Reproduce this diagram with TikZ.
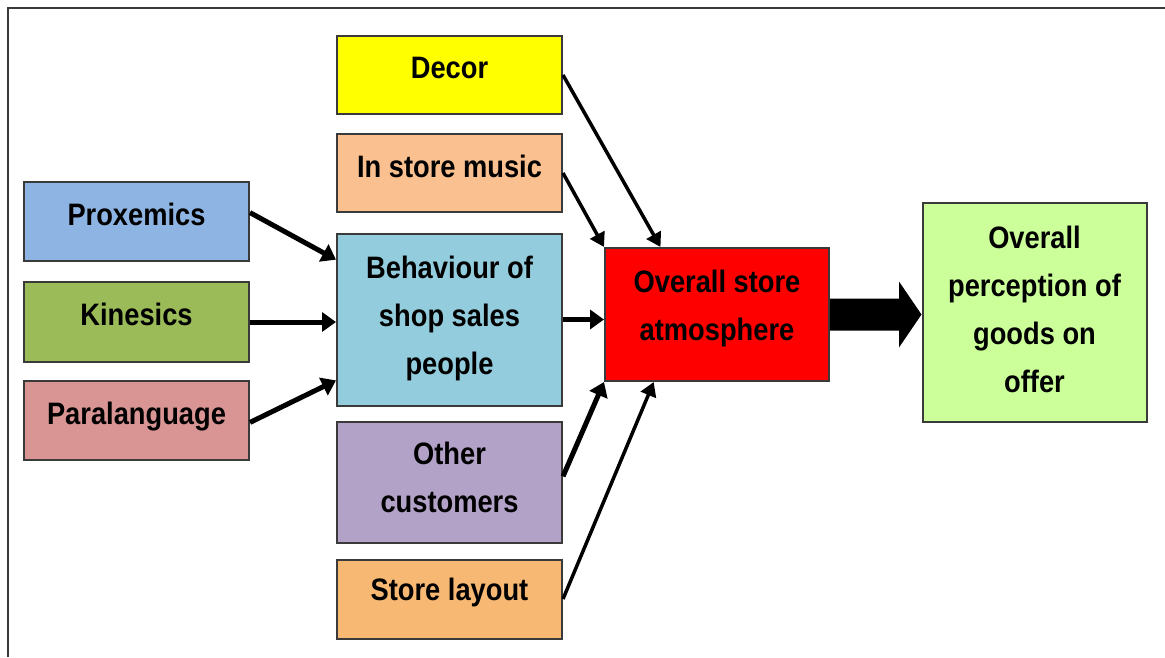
\documentclass[tikz,border=0pt]{standalone}
\usepackage{fontspec}
\setmainfont{Liberation Sans}[FakeStretch=0.88]
\usetikzlibrary{arrows.meta,calc}

\definecolor{boxline}{HTML}{3A3A3A}
\definecolor{cDecor}{HTML}{FFFF00}
\definecolor{cMusic}{HTML}{FAC090}
\definecolor{cProx}{HTML}{8EB4E3}
\definecolor{cKin}{HTML}{9BBB59}
\definecolor{cPara}{HTML}{D99594}
\definecolor{cBehav}{HTML}{93CDDD}
\definecolor{cOther}{HTML}{B3A2C7}
\definecolor{cLayout}{HTML}{F6B873}
\definecolor{cAtmos}{HTML}{FF0000}
\definecolor{cPercep}{HTML}{CCFF99}

\tikzset{
  box/.style={draw=boxline, line width=2pt, inner sep=0pt, rectangle},
  % multi-line labels are anchored at the baseline of their last line
  lbl/.style={inner sep=0pt, anchor=base, align=center,
    font=\fontsize{31}{48}\selectfont\bfseries},
  arrthick/.style={line width=5pt, -{Triangle[length=14pt,width=19pt]}},
  arrthin/.style={line width=3.5pt, -{Triangle[length=14pt,width=16pt]}},
}

\begin{document}
\begin{tikzpicture}[x=1pt, y=-1pt]
  \useasboundingbox (0,0) rectangle (1165,657);
  % outer frame (top and left edges)
  \draw[line width=2pt, color=boxline] (8,657) -- (8,8) -- (1165,8);

  % boxes
  \node[box, fill=cDecor,  minimum width=225pt, minimum height=78pt]  (decor)  at (449.5,75)  {};
  \node[box, fill=cMusic,  minimum width=225pt, minimum height=78pt]  (music)  at (449.5,173) {};
  \node[box, fill=cProx,   minimum width=225pt, minimum height=79pt]  (prox)   at (136.5,221.5) {};
  \node[box, fill=cKin,    minimum width=225pt, minimum height=80pt]  (kin)    at (136.5,322) {};
  \node[box, fill=cPara,   minimum width=225pt, minimum height=79pt]  (para)   at (136.5,420) {};
  \node[box, fill=cBehav,  minimum width=225pt, minimum height=172pt] (behav)  at (449.5,319.5) {};
  \node[box, fill=cOther,  minimum width=225pt, minimum height=121pt] (other)  at (449.5,482.5) {};
  \node[box, fill=cLayout, minimum width=225pt, minimum height=79pt]  (layout) at (449.5,599) {};
  \node[box, fill=cAtmos,  minimum width=224pt, minimum height=133pt] (atmos)  at (717,314.5) {};
  \node[box, fill=cPercep, minimum width=224pt, minimum height=219pt] (percep) at (1034.5,312.5) {};

  % labels
  \node[lbl] (tDecor)  at (449.5,78)  {Decor};
  \node[lbl] (tMusic)  at (449.5,177) {In store music};
  \node[lbl] (tProx)   at (136.5,225) {Proxemics};
  \node[lbl] (tKin)    at (136.5,325) {Kinesics};
  \node[lbl] (tPara)   at (136.5,424) {Paralanguage};
  \node[lbl] (tBehav)  at (449.5,374) {Behaviour of\\shop sales\\people};
  \node[lbl] (tOther)  at (449.5,512) {Other\\customers};
  \node[lbl] (tLayout) at (449.5,600) {Store layout};
  \node[lbl] (tAtmos)  at (717,340)   {Overall store\\atmosphere};
  \node[lbl] (tPercep) at (1034.5,392) {Overall\\perception of\\goods on\\offer};

  % connectors into the behaviour box
  \draw[arrthick] ($(prox.north east)!0.39!(prox.south east)$) -- ($(behav.north west)!0.156!(behav.south west)$);
  \draw[arrthick] (kin.east) -- (kin.east -| behav.west);
  \draw[arrthick] ($(para.north east)!0.53!(para.south east)$) -- ($(behav.north west)!0.85!(behav.south west)$);

  % connectors into the atmosphere box
  \draw[arrthick] (behav.east) -- (behav.east -| atmos.west);
  \draw[arrthin] (music.east) -- (atmos.north west);
  \draw[arrthin] (decor.east) -- ($(atmos.north west)!0.25!(atmos.north east)$);
  \draw[arrthick] ($(other.north east)!0.45!(other.south east)$) -- (atmos.south west);
  \draw[arrthin] (layout.east) -- ($(atmos.south west)!0.22!(atmos.south east)$);

  % block arrow to the perception box
  \fill[black] ($(atmos.east)+(0,-16)$) -- ($(atmos.east)+(69,-16)$)
    -- ($(atmos.east)+(69,-33)$) -- (percep.west |- atmos.east)
    -- ($(atmos.east)+(69,33)$) -- ($(atmos.east)+(69,16)$)
    -- ($(atmos.east)+(0,16)$) -- cycle;
\end{tikzpicture}
\end{document}
